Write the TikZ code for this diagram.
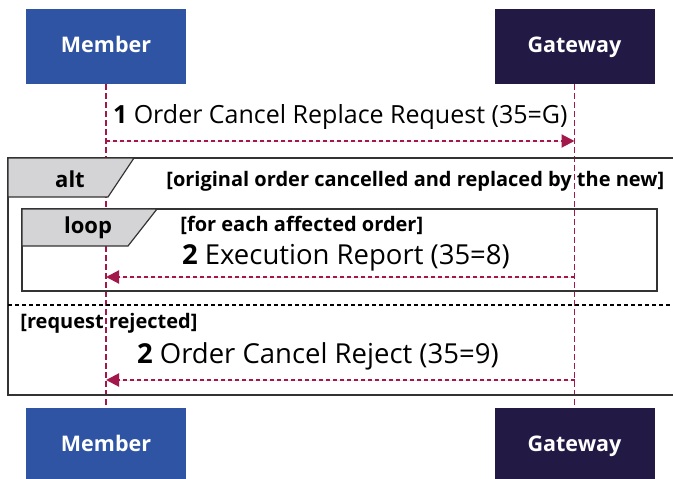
\documentclass[tikz,border=0pt]{standalone}
\usepackage{fontspec}
\setmainfont{Open Sans}
\usepackage{xcolor}
\usetikzlibrary{arrows.meta,positioning,calc}
\definecolor{memberblue}{HTML}{2E54A3}
\definecolor{gatenavy}{HTML}{221A45}
\definecolor{lifered}{HTML}{A3184A}
\definecolor{tabgray}{HTML}{D4D4D6}
\definecolor{framegray}{HTML}{333333}

\begin{document}
\begin{tikzpicture}[x=1pt,y=-1pt, >={Triangle[length=13pt,width=13pt]}, thick]
    \tikzset{
        actor/.style={minimum width=160pt, minimum height=75pt, inner sep=0pt, text height=16pt, text depth=4pt, text=white, font=\bfseries\fontsize{21.5}{25}\selectfont},
        lifeline/.style={draw=lifered, line width=1.8pt, dash pattern=on 6pt off 3pt},
        msg/.style={draw=lifered, line width=2pt, dash pattern=on 4pt off 3pt, ->, fill=lifered},
        msgtext/.style={inner sep=0pt, font=\fontsize{25}{29}\selectfont},
        bigmsgtext/.style={inner sep=0pt, font=\fontsize{27.5}{32}\selectfont},
        guard/.style={inner sep=0pt, font=\bfseries\fontsize{20}{24}\selectfont},
        tabtext/.style={inner sep=0pt, font=\bfseries\fontsize{22}{26}\selectfont},
        frame/.style={draw=framegray, line width=1.2pt},
        tab/.style={fill=tabgray, draw=framegray, line width=1.2pt}
    }
    \useasboundingbox (0,0) rectangle (673,479);

    \node[actor, fill=memberblue] (memtop) at (106,46.5) {Member};
    \node[actor, fill=gatenavy] (gwtop) at (574.5,46.5) {Gateway};
    \node[actor, fill=memberblue] (membot) at (106,445.5) {Member};
    \node[actor, fill=gatenavy] (gwbot) at (574.5,445.5) {Gateway};

    \draw[lifeline] (memtop.south) -- (membot.north);
    \draw[lifeline] (gwtop.south) -- (gwbot.north);

    % frames
    \draw[frame] (8,158) rectangle (690,395);
    \draw[tab] (8,158) -- (134,158) -- (108,197) -- (8,197) -- cycle;
    \node[tabtext] (alt) at (70,179) {alt};
    \node[guard, anchor=west] (altguard) at (166,181) {[original order cancelled and replaced by the new]};
    \draw[frame] (22,209) rectangle (657,291);
    \draw[tab] (22,209) -- (157,209) -- (128,246) -- (22,246) -- cycle;
    \node[tabtext] (loop) at (88,228) {loop};
    \node[guard, anchor=west] (loopguard) at (180,225) {[for each affected order]};
    \draw[black, line width=1.2pt, dash pattern=on 4pt off 3pt] (8,305) -- (690,305);
    \node[guard, anchor=west] (rejguard) at (20,323) {[request rejected]};

    % messages
    \coordinate (y1) at (0,141);
    \coordinate (y2) at (0,277);
    \coordinate (y3) at (0,380);
    \draw[msg] (memtop |- y1) -- node[msgtext, midway, above=10pt] (m1) {\textbf{1} Order Cancel Replace Request (35=G)} (gwtop |- y1);
    \draw[msg] (gwtop |- y2) -- node[bigmsgtext, at end, anchor=south west, xshift=75pt, yshift=5pt] (m2) {\textbf{2} Execution Report (35=8)} (memtop |- y2);
    \draw[msg] (gwtop |- y3) -- node[bigmsgtext, at end, anchor=south west, xshift=30pt, yshift=9pt] (m3) {\textbf{2} Order Cancel Reject (35=9)} (memtop |- y3);
\end{tikzpicture}
\end{document}
